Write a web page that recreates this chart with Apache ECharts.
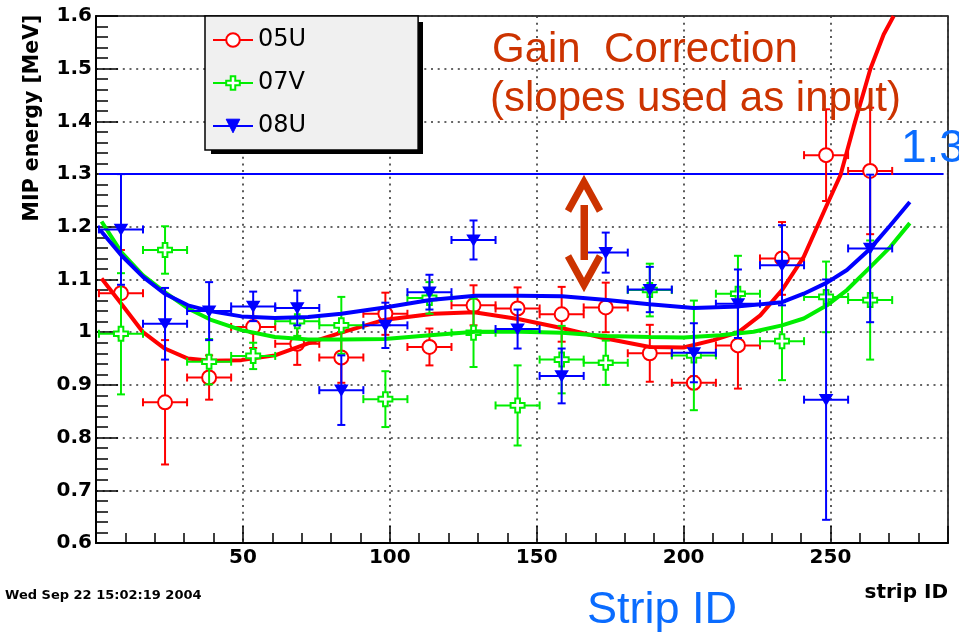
<!DOCTYPE html>
<html><head><meta charset="utf-8">
<script src="https://cdn.jsdelivr.net/npm/echarts@6/dist/echarts.min.js"></script>
<style>html,body{margin:0;padding:0;background:#fff}#c{width:959px;height:638px}</style>
</head><body><div id="c"></div>
<script>
// ---- data ----
const stripX = [8.5, 23.5, 38.5, 53.5, 68.5, 83.5, 98.5, 113.5, 128.5, 143.5, 158.5, 173.5, 188.5, 203.5, 218.5, 233.5, 248.5, 263.5];
const xHalfWidth = 7.5;

const val05U = [1.074, 0.867, 0.914, 1.010, 0.978, 0.952, 1.035, 0.972, 1.051, 1.045, 1.034, 1.047, 0.960, 0.904, 0.975, 1.140, 1.336, 1.306];
const err05U = [0.082, 0.118, 0.042, 0.040, 0.040, 0.048, 0.040, 0.035, 0.038, 0.040, 0.052, 0.047, 0.054, 0.012, 0.082, 0.069, 0.087, 0.120];

const val07V = [0.997, 1.156, 0.944, 0.955, 1.021, 1.013, 0.873, 1.065, 0.999, 0.861, 0.948, 0.942, 1.080, 0.956, 1.073, 0.983, 1.067, 1.061];
const err07V = [0.115, 0.045, 0.043, 0.025, 0.028, 0.054, 0.053, 0.030, 0.065, 0.076, 0.064, 0.042, 0.050, 0.104, 0.072, 0.074, 0.067, 0.113];

const val08U = [1.195, 1.016, 1.040, 1.049, 1.046, 0.890, 1.013, 1.076, 1.175, 1.006, 0.917, 1.151, 1.081, 0.961, 1.054, 1.127, 0.872, 1.159];
const err08U = [0.105, 0.068, 0.055, 0.028, 0.033, 0.066, 0.043, 0.033, 0.037, 0.037, 0.052, 0.038, 0.043, 0.056, 0.065, 0.076, 0.228, 0.140];

const fitX05U = [1.9, 8.6, 16.0, 23.4, 31.3, 38.9, 49.5, 60.9, 72.2, 84.0, 97.8, 114.9, 128.7, 143.7, 158.4, 172.7, 188.5, 200.0, 210.2, 218.7, 226.1, 233.5, 240.9, 248.5, 253.4, 257.9, 263.6, 268.1, 271.5];
const fitY05U = [1.102, 1.054, 1.000, 0.969, 0.950, 0.946, 0.947, 0.956, 0.979, 1.000, 1.023, 1.035, 1.038, 1.025, 1.008, 0.989, 0.972, 0.971, 0.985, 1.000, 1.032, 1.080, 1.143, 1.238, 1.298, 1.390, 1.500, 1.565, 1.600];

const fitX07V = [1.9, 8.6, 16.0, 23.4, 31.3, 38.9, 49.5, 60.9, 72.2, 83.5, 98.3, 113.7, 129.1, 144.4, 158.6, 173.9, 188.4, 200.0, 212.5, 223.8, 233.5, 240.9, 248.8, 255.6, 263.6, 270.4, 277.0];
const fitY07V = [1.210, 1.152, 1.108, 1.076, 1.045, 1.024, 1.004, 0.991, 0.986, 0.986, 0.987, 0.994, 1.001, 1.001, 0.999, 0.993, 0.991, 0.990, 0.994, 1.001, 1.013, 1.026, 1.051, 1.080, 1.124, 1.162, 1.207];

const fitX08U = [1.4, 8.6, 16.0, 23.4, 31.3, 38.9, 49.5, 60.9, 72.2, 83.5, 98.3, 113.7, 129.1, 144.4, 158.6, 173.9, 188.4, 203.4, 218.9, 233.5, 240.9, 248.8, 255.6, 263.6, 270.4, 277.0];
const fitY08U = [1.194, 1.146, 1.105, 1.073, 1.051, 1.040, 1.030, 1.027, 1.029, 1.035, 1.047, 1.061, 1.069, 1.069, 1.068, 1.061, 1.053, 1.046, 1.049, 1.057, 1.073, 1.094, 1.118, 1.159, 1.203, 1.247];

const refLevel = 1.3;
const refRange = [1, 288.5];
const seriesNames = ['05U', '07V', '08U'];

// ---- styling ----
const RED = '#ff0000', GREEN = '#00ee00', BLUE = '#0000ff';
const ORANGE = '#cc3300', LBLUE = '#0a6cff';
const symCircle = 'circle';
const symOpenCross = 'path://M4,0H8V4H12V8H8V12H4V8H0V4H4Z';
const symDownTri = 'path://M0,0L12,0L6,10Z';

function pts(vals, errs) { return stripX.map((x, i) => [x, vals[i], xHalfWidth, errs[i]]); }
function pairs(xs, ys) { return xs.map((x, i) => [x, ys[i]]); }

function errRender(color) {
  return function (params, api) {
    const x = api.value(0), y = api.value(1), ex = api.value(2), ey = api.value(3);
    const c = api.coord([x, y]);
    const xl = api.coord([x - ex, y])[0], xr = api.coord([x + ex, y])[0];
    const yt = api.coord([x, y + ey])[1], yb = api.coord([x, y - ey])[1];
    const cap = 4;
    const st = { stroke: color, lineWidth: 2, fill: null };
    const seg = (x1, y1, x2, y2) => ({ type: 'line', shape: { x1, y1, x2, y2 }, style: st });
    return { type: 'group', children: [
      seg(xl, c[1], xr, c[1]),
      seg(c[0], yt, c[0], yb),
      seg(xl, c[1] - cap, xl, c[1] + cap),
      seg(xr, c[1] - cap, xr, c[1] + cap),
      seg(c[0] - cap, yt, c[0] + cap, yt),
      seg(c[0] - cap, yb, c[0] + cap, yb)
    ]};
  };
}

function groupSeries(name, color, vals, errs, fx, fy, symbol, size, fill, z0) {
  return [
    { type: 'custom', name: name + ' err', z: z0, silent: true, clip: true,
      data: pts(vals, errs), encode: { x: 0, y: 1 }, renderItem: errRender(color) },
    { type: 'line', name: name, z: z0 + 1, clip: true, data: pairs(stripX, vals),
      symbol: symbol, symbolSize: size, symbolKeepAspect: true, showSymbol: true,
      lineStyle: { width: 0, color: color },
      itemStyle: { color: fill, borderColor: color, borderWidth: 2 } },
    { type: 'line', name: name + ' fit', z: z0 + 2, clip: true, data: pairs(fx, fy),
      showSymbol: false, symbol: 'none', lineStyle: { width: 4, color: color } }
  ];
}

const chart = echarts.init(document.getElementById('c'), null, { renderer: 'canvas' });
const tickFont = { fontFamily: 'DejaVu Sans', fontWeight: 'bold', fontSize: 20, color: '#000' };
const gridDots = { show: true, lineStyle: { color: '#333', width: 1.6, type: [2, 4.7] } };

chart.setOption({
  animation: false,
  backgroundColor: '#fff',
  grid: { left: 96, top: 16, width: 852, height: 527, show: true, borderColor: '#000', borderWidth: 1.5, backgroundColor: 'transparent' },
  xAxis: {
    type: 'value', min: 0, max: 290, interval: 50,
    axisLine: { onZero: false, lineStyle: { color: '#000', width: 2 } },
    axisTick: { inside: true, length: 17, lineStyle: { color: '#000', width: 1.5 } },
    minorTick: { show: true, splitNumber: 5, length: 10, lineStyle: { color: '#000', width: 1.5 } },
    splitLine: gridDots,
    axisLabel: Object.assign({ margin: 5, showMinLabel: false, showMaxLabel: false }, tickFont)
  },
  yAxis: {
    type: 'value', min: 0.6, max: 1.6, interval: 0.1,
    axisLine: { onZero: false, lineStyle: { color: '#000', width: 2 } },
    axisTick: { inside: true, length: 22, lineStyle: { color: '#000', width: 1.5 } },
    minorTick: { show: true, splitNumber: 5, length: 12, lineStyle: { color: '#000', width: 1.5 } },
    splitLine: gridDots,
    axisLabel: Object.assign({ margin: 4, formatter: v => String(parseFloat(v.toFixed(1))) }, tickFont)
  },
  legend: {
    orient: 'vertical', left: 205, top: 16, padding: [12, 112, 12, 7],
    itemGap: 19, itemWidth: 40, itemHeight: 17, selectedMode: false,
    backgroundColor: '#f0f0f0', borderColor: '#000', borderWidth: 1.5,
    textStyle: { fontFamily: 'DejaVu Sans', fontSize: 24, color: '#000' },
    data: [
      { name: seriesNames[0], itemStyle: { color: '#fff', borderColor: RED, borderWidth: 2 }, lineStyle: { color: RED, width: 2 } },
      { name: seriesNames[1], itemStyle: { color: '#fff', borderColor: GREEN, borderWidth: 2 }, lineStyle: { color: GREEN, width: 2 } },
      { name: seriesNames[2], itemStyle: { color: BLUE, borderColor: BLUE, borderWidth: 1 }, lineStyle: { color: BLUE, width: 2 } }
    ]
  },
  graphic: [
    { type: 'rect', z: 3, shape: { x: 211, y: 22, width: 212, height: 132 }, style: { fill: '#000' } },
    { type: 'text', x: 33, y: 118, rotation: Math.PI / 2,
      style: { text: 'MIP energy [MeV]', fontFamily: 'DejaVu Sans', fontWeight: 'bold', fontSize: 20.5, fill: '#000', textAlign: 'center', textVerticalAlign: 'middle' } },
    { type: 'text', x: 948, y: 593,
      style: { text: 'strip ID', fontFamily: 'DejaVu Sans', fontWeight: 'bold', fontSize: 20, fill: '#000', textAlign: 'right', textVerticalAlign: 'middle' } },
    { type: 'text', x: 5, y: 596,
      style: { text: 'Wed Sep 22 15:02:19 2004', fontFamily: 'DejaVu Sans', fontWeight: 'bold', fontSize: 13, fill: '#000', textAlign: 'left', textVerticalAlign: 'middle' } },
    { type: 'text', x: 492, y: 50, z: 20,
      style: { text: 'Gain  Correction', fontFamily: 'Liberation Sans', fontSize: 42, fill: ORANGE, textAlign: 'left', textVerticalAlign: 'middle' } },
    { type: 'text', x: 490, y: 99, z: 20,
      style: { text: '(slopes used as input)', fontFamily: 'Liberation Sans', fontSize: 42, fill: ORANGE, textAlign: 'left', textVerticalAlign: 'middle' } },
    { type: 'text', x: 901, y: 149, z: 20,
      style: { text: '1.3', fontFamily: 'Liberation Sans', fontSize: 46, fill: LBLUE, textAlign: 'left', textVerticalAlign: 'middle' } },
    { type: 'text', x: 587, y: 611, z: 20,
      style: { text: 'Strip ID', fontFamily: 'Liberation Sans', fontSize: 45, fill: LBLUE, textAlign: 'left', textVerticalAlign: 'middle' } },
    { type: 'polyline', z: 20, shape: { points: [[568, 211], [584, 182], [600, 211]] }, style: { stroke: ORANGE, lineWidth: 7, fill: null, lineJoin: 'miter' } },
    { type: 'polyline', z: 20, shape: { points: [[568, 256], [584, 285], [600, 256]] }, style: { stroke: ORANGE, lineWidth: 7, fill: null, lineJoin: 'miter' } },
    { type: 'rect', z: 20, shape: { x: 580.5, y: 205, width: 7.5, height: 55 }, style: { fill: ORANGE } }
  ],
  series: [
    { type: 'line', name: 'level', z: 1, silent: true, data: [[refRange[0], refLevel], [refRange[1], refLevel]],
      showSymbol: false, symbol: 'none', lineStyle: { color: BLUE, width: 2 } }
  ].concat(
    groupSeries(seriesNames[0], RED, val05U, err05U, fitX05U, fitY05U, symCircle, 14, '#fff', 2),
    groupSeries(seriesNames[1], GREEN, val07V, err07V, fitX07V, fitY07V, symOpenCross, 14, '#fff', 5),
    groupSeries(seriesNames[2], BLUE, val08U, err08U, fitX08U, fitY08U, symDownTri, 11, BLUE, 8)
  )
});
</script>
</body></html>
